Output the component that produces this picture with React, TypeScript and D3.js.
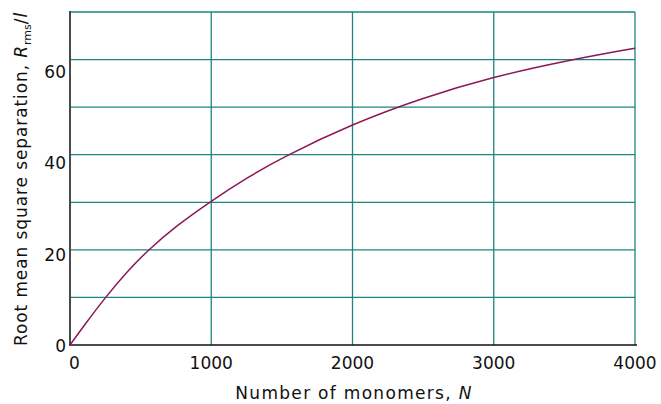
import React, { useEffect, useRef } from 'react';
import * as d3 from 'd3';

// values
const monomers = [0, 100, 250, 400, 550, 750, 1000, 1250, 1500, 2000, 2500, 3000, 3500, 4000];
const separation = [0, 4.1, 10, 15.3, 19.9, 25, 30.3, 35.1, 39.4, 46.5, 52, 56.4, 59.7, 62.4];
const xTicks = [0, 1000, 2000, 3000, 4000];
const yTicks = [0, 20, 40, 60];
const yGrid = [10, 20, 30, 40, 50, 60, 70];

const App: React.FC = () => {
  const ref = useRef<SVGSVGElement>(null);

  useEffect(() => {
    if (!ref.current) return;
    const width = 661, height = 404;
    const margin = { top: 12, right: 26, bottom: 59, left: 70 };
    const font = '"DejaVu Sans", "Liberation Sans", sans-serif';
    const gridColor = '#1d8580';

    const svg = d3.select(ref.current);
    svg.selectAll('*').remove();
    svg.attr('width', width).attr('height', height);

    const x = d3.scaleLinear().domain([0, 4000]).range([margin.left, width - margin.right]);
    const y = d3.scaleLinear().domain([0, 70]).range([height - margin.bottom, margin.top]);
    // the printed y labels sit a little off the grid lines in the original
    const yLabel = d3.scaleLinear().domain([0, 60]).range([352, 78]);

    const g = svg.append('g');

    // grid
    g.selectAll('.hgrid')
      .data(yGrid)
      .enter()
      .append('line')
      .attr('x1', x(0))
      .attr('x2', x(4000))
      .attr('y1', d => y(d))
      .attr('y2', d => y(d))
      .attr('stroke', gridColor)
      .attr('stroke-width', 1.3);

    g.selectAll('.vgrid')
      .data(xTicks.filter(d => d > 0))
      .enter()
      .append('line')
      .attr('x1', d => x(d))
      .attr('x2', d => x(d))
      .attr('y1', y(0))
      .attr('y2', y(70))
      .attr('stroke', gridColor)
      .attr('stroke-width', 1.3);

    // axes
    g.append('line')
      .attr('x1', x(0)).attr('x2', x(0))
      .attr('y1', y(70) - 1).attr('y2', y(0))
      .attr('stroke', '#4a4a4a')
      .attr('stroke-width', 2);
    g.append('line')
      .attr('x1', x(0) - 1).attr('x2', x(4000) + 2)
      .attr('y1', y(0)).attr('y2', y(0))
      .attr('stroke', '#111')
      .attr('stroke-width', 1.6);

    // curve
    const pts = monomers.map((n, i) => [n, separation[i]] as [number, number]);
    const line = d3.line<[number, number]>()
      .x(d => x(d[0]))
      .y(d => y(d[1]))
      .curve(d3.curveBasis);
    g.append('path')
      .attr('d', line(pts) ?? '')
      .attr('fill', 'none')
      .attr('stroke', '#8c1858')
      .attr('stroke-width', 1.5);

    // tick labels
    g.selectAll('.xt')
      .data(xTicks)
      .enter()
      .append('text')
      .attr('x', d => x(d) + (d === 0 ? 4.5 : 0))
      .attr('y', 369)
      .attr('text-anchor', 'middle')
      .attr('font-family', font)
      .attr('font-size', 17)
      .attr('fill', '#111')
      .text(d => d);

    g.selectAll('.yt')
      .data(yTicks)
      .enter()
      .append('text')
      .attr('x', 66)
      .attr('y', d => yLabel(d))
      .attr('text-anchor', 'end')
      .attr('font-family', font)
      .attr('font-size', 17)
      .attr('fill', '#111')
      .text(d => d);

    // axis titles
    const xt = g.append('text')
      .attr('x', 354)
      .attr('y', 399)
      .attr('text-anchor', 'middle')
      .attr('font-family', font)
      .attr('font-size', 17)
      .attr('letter-spacing', 1.3)
      .attr('fill', '#111');
    xt.append('tspan').text('Number of monomers, ');
    xt.append('tspan').attr('font-style', 'italic').text('N');

    const yt = g.append('text')
      .attr('transform', 'translate(27,179) rotate(-90)')
      .attr('text-anchor', 'middle')
      .attr('font-family', font)
      .attr('font-size', 17)
      .attr('letter-spacing', 0.9)
      .attr('fill', '#111');
    yt.append('tspan').text('Root mean square separation, ');
    yt.append('tspan').attr('font-style', 'italic').text('R');
    yt.append('tspan').attr('font-size', 11).attr('dy', 4).attr('letter-spacing', 0).text('rms');
    yt.append('tspan').attr('dy', -4).text('/');
    yt.append('tspan').attr('font-style', 'italic').text('l');
  }, []);

  return (
    <svg
      ref={ref}
      style={{ position: 'absolute', left: 0, top: 0, background: '#fff' }}
    />
  );
};

export default App;
